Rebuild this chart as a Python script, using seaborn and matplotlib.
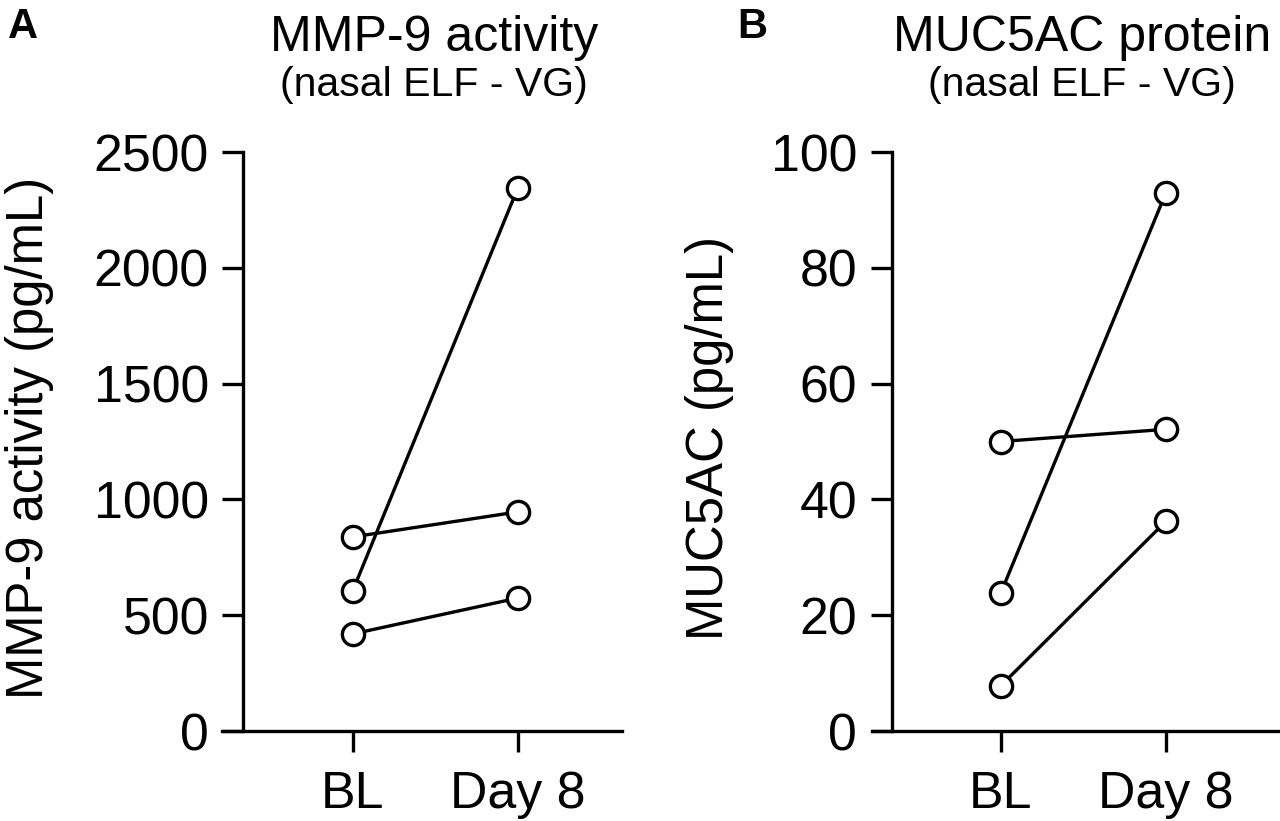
import matplotlib
matplotlib.use("Agg")
import matplotlib.pyplot as plt
import pandas as pd
import seaborn as sns

# time points
timepoints = ["BL", "Day 8"]

# MMP-9 activity (pg/mL), one pair per subject
mmp9_bl = [838, 604, 419]
mmp9_day8 = [946, 2345, 574]

# MUC5AC protein (pg/mL), one pair per subject
muc5ac_bl = [50.0, 23.8, 7.8]
muc5ac_day8 = [52.1, 92.9, 36.2]

mmp9_ticks = [0, 500, 1000, 1500, 2000, 2500]
muc5ac_ticks = [0, 20, 40, 60, 80, 100]


def to_long(bl, day8):
    rows = []
    for i, (a, b) in enumerate(zip(bl, day8)):
        rows.append({"subject": i, "time": timepoints[0], "value": a})
        rows.append({"subject": i, "time": timepoints[1], "value": b})
    return pd.DataFrame(rows)


sns.set_theme(style="ticks")
plt.rcParams["font.family"] = ["Liberation Sans", "DejaVu Sans"]
plt.rcParams.update({
    "text.color": "black",
    "axes.labelcolor": "black",
    "axes.edgecolor": "black",
    "xtick.color": "black",
    "ytick.color": "black",
})

fig = plt.figure(figsize=(12.8, 8.21), dpi=100)
W, H = 1280, 821

panels = [
    dict(df=to_long(mmp9_bl, mmp9_day8), ticks=mmp9_ticks, left=222, right=622,
         xlim=(-0.79, 1.63), ylabel="MMP-9 activity (pg/mL)", ylab_x=54,
         title="MMP-9 activity", title_x=434, letter="A", letter_x=8),
    dict(df=to_long(muc5ac_bl, muc5ac_day8), ticks=muc5ac_ticks, left=872, right=1278,
         xlim=(-0.78, 1.68), ylabel="MUC5AC (pg/mL)", ylab_x=734,
         title="MUC5AC protein", title_x=1082, letter="B", letter_x=737),
]

top_px, bottom_px = 152, 731
lw = 2.4

for p in panels:
    ax = fig.add_axes([p["left"] / W, 1 - bottom_px / H,
                       (p["right"] - p["left"]) / W, (bottom_px - top_px) / H])
    sns.lineplot(data=p["df"], x="time", y="value", units="subject", estimator=None,
                 color="black", linewidth=lw, marker="o", markersize=16,
                 markerfacecolor="white", markeredgecolor="black",
                 markeredgewidth=lw, clip_on=False, ax=ax)
    ax.set_xlim(*p["xlim"])
    ax.set_ylim(p["ticks"][0], p["ticks"][-1])
    ax.set_yticks(p["ticks"])
    ax.set_xticks([0, 1])
    ax.set_xticklabels(timepoints)
    ax.set_xlabel("")
    ax.set_ylabel("")
    for s in ["top", "right"]:
        ax.spines[s].set_visible(False)
    ax.spines["left"].set_position(("data", -0.66))
    ax.spines["left"].set_linewidth(lw)
    ax.spines["bottom"].set_linewidth(lw)
    ax.tick_params(axis="both", length=15, width=lw, labelsize=37.4,
                   color="black", labelcolor="black")
    ax.tick_params(axis="y", pad=10)
    ax.tick_params(axis="x", pad=13)
    ax.patch.set_alpha(0)

    fig.text(p["ylab_x"] / W, 1 - 438 / H, p["ylabel"], rotation=90,
             ha="right", va="center", fontsize=36.6)
    fig.text(p["title_x"] / W, 1 - 51 / H, p["title"], ha="center",
             va="baseline", fontsize=36)
    fig.text(p["title_x"] / W, 1 - 96 / H, "(nasal ELF - VG)", ha="center",
             va="baseline", fontsize=29.5)
    fig.text(p["letter_x"] / W, 1 - 38 / H, p["letter"], ha="left",
             va="baseline", fontsize=30, fontweight="bold")

fig.savefig("out.png", dpi=100)
